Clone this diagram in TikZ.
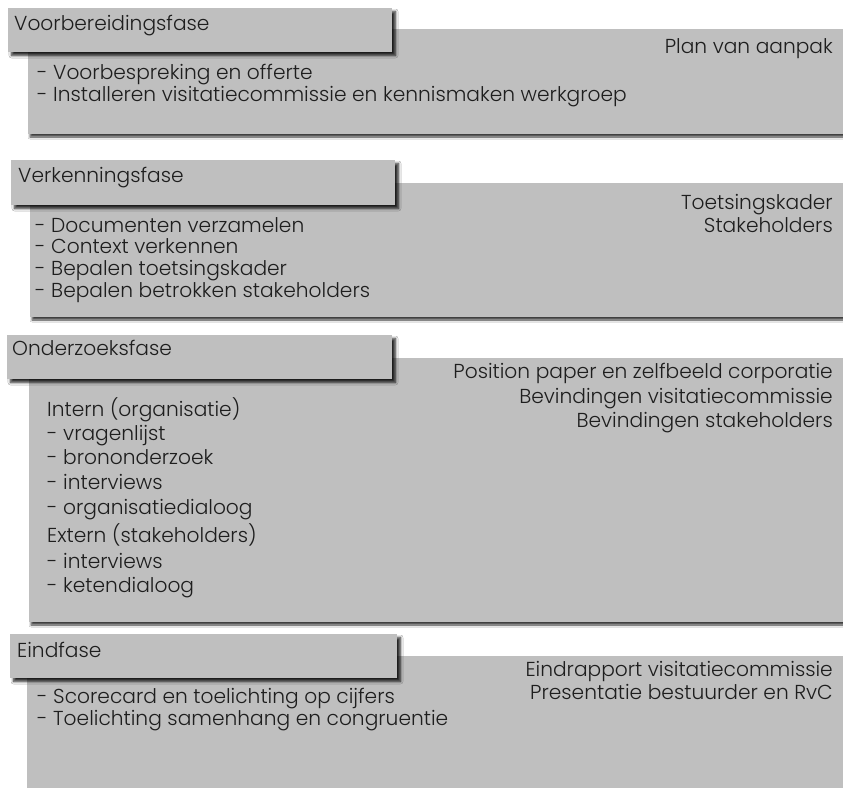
\documentclass[tikz,border=0pt]{standalone}
\usepackage{fontspec}
\setmainfont{Poppins}[UprightFont=* Light]
\usetikzlibrary{shadows.blur}
\definecolor{boxgray}{RGB}{191,191,191}
\definecolor{txt}{RGB}{30,30,30}
\tikzset{
  bigbox/.style={fill=boxgray, draw=none, blur shadow={shadow xshift=2pt, shadow yshift=-3pt, shadow blur steps=6, shadow opacity=75, shadow blur radius=2pt}},
  tabbox/.style={fill=boxgray, draw=none, blur shadow={shadow xshift=3.5pt, shadow yshift=-3.5pt, shadow blur steps=6, shadow opacity=85, shadow blur radius=2.5pt}},
  lbl/.style={inner sep=0pt, anchor=base west, text=txt, font=\fontsize{20.2}{24}\selectfont},
  rlbl/.style={inner sep=0pt, anchor=base east, text=txt, font=\fontsize{20.2}{24}\selectfont},
}
\begin{document}
\begin{tikzpicture}[x=1pt,y=-1pt]
\useasboundingbox (0,0) rectangle (843,787);
\fill[white] (0,0) rectangle (843,787);
\clip (0,0) rectangle (843,787);
% Phase 1
\path[bigbox] (28,29) rectangle (860,134);
\path[tabbox] (8,8) rectangle (392,52);
\node[lbl] (h1) at (14,30) {Voorbereidingsfase};
\node[rlbl] (r1) at (833,53) {Plan van aanpak};
\node[lbl] (a1) at (37,79) {- Voorbespreking en offerte};
\node[lbl] (a2) at (37,101) {- Installeren visitatiecommissie en kennismaken werkgroep};
% Phase 2
\path[bigbox] (30,183) rectangle (860,317);
\path[tabbox] (11,160) rectangle (395,205);
\node[lbl] (h2) at (18,182) {Verkenningsfase};
\node[rlbl] (r2a) at (833,209) {Toetsingskader};
\node[rlbl] (r2b) at (833,232) {Stakeholders};
\node[lbl] (b1) at (35,232) {- Documenten verzamelen};
\node[lbl] (b2) at (35,253) {- Context verkennen};
\node[lbl] (b3) at (35,275) {- Bepalen toetsingskader};
\node[lbl] (b4) at (35,297) {- Bepalen betrokken stakeholders};
% Phase 3
\path[bigbox] (29,358) rectangle (860,622);
\path[tabbox] (7,335) rectangle (392,379);
\node[lbl] (h3) at (12,355) {Onderzoeksfase};
\node[rlbl] (r3a) at (833,378) {Position paper en zelfbeeld corporatie};
\node[rlbl] (r3b) at (833,403) {Bevindingen visitatiecommissie};
\node[rlbl] (r3c) at (833,427) {Bevindingen stakeholders};
\node[lbl] (c0) at (47,416) {Intern (organisatie)};
\node[lbl] (c1) at (47,440) {- vragenlijst};
\node[lbl] (c2) at (47,464) {- brononderzoek};
\node[lbl] (c3) at (47,489) {- interviews};
\node[lbl] (c4) at (47,514) {- organisatiedialoog};
\node[lbl] (c5) at (47,542) {Extern (stakeholders)};
\node[lbl] (c6) at (47,568) {- interviews};
\node[lbl] (c7) at (47,592) {- ketendialoog};
% Phase 4
\path[bigbox] (27,656) rectangle (860,800);
\path[tabbox] (10,634) rectangle (397,678);
\node[lbl] (h4) at (17,657) {Eindfase};
\node[rlbl] (r4a) at (833,676) {Eindrapport visitatiecommissie};
\node[rlbl] (r4b) at (833,699) {Presentatie bestuurder en RvC};
\node[lbl] (d1) at (37,703) {- Scorecard en toelichting op cijfers};
\node[lbl] (d2) at (37,725) {- Toelichting samenhang en congruentie};
\end{tikzpicture}
\end{document}
